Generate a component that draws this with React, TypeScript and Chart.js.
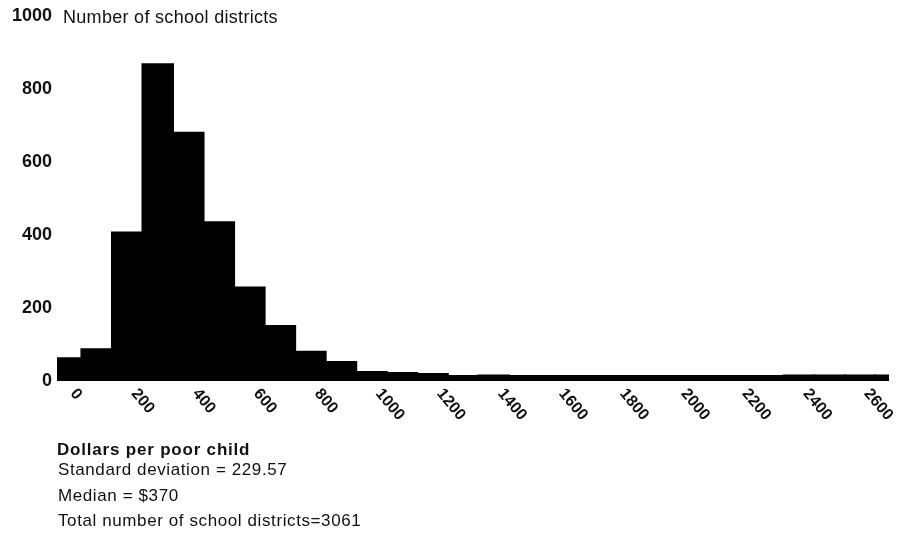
import React, { useEffect, useRef } from "react";
import { Chart, registerables } from "chart.js";

Chart.register(...registerables);

// Histogram bins (centre of each $100 bin, dollars per poor child)
const binCenters = [
  0, 100, 200, 300, 400, 500, 600, 700, 800, 900, 1000, 1100, 1200, 1300,
  1400, 1500, 1600, 1700, 1800, 1900, 2000, 2100, 2200, 2300, 2400, 2500,
  2600, 2700,
];
// Number of school districts in each bin
const districtCounts = [
  62, 87, 407, 868, 680, 435, 256, 151, 80, 52, 25, 22, 19, 14,
  15, 14, 14, 14, 14, 14, 14, 14, 14, 14, 15, 15, 15, 15,
];
const xTickValues = [0, 200, 400, 600, 800, 1000, 1200, 1400, 1600, 1800, 2000, 2200, 2400, 2600];
const yTickValues = [0, 200, 400, 600, 800, 1000];

const yAxisTitle = "Number of school districts";
const xAxisTitle = "Dollars per poor child";
const statLines = [
  "Standard deviation = 229.57",
  "Median = $370",
  "Total number of school districts=3061",
];

const FONT = '"Liberation Sans", Arial, Helvetica, sans-serif';

export default function App() {
  const canvasRef = useRef<HTMLCanvasElement | null>(null);

  useEffect(() => {
    const canvas = canvasRef.current;
    if (!canvas) return;

    const rotatedXLabels = {
      id: "rotatedXLabels",
      afterDraw(chart: any) {
        const ctx = chart.ctx as CanvasRenderingContext2D;
        const xs = chart.scales.x;
        const base = chart.chartArea.bottom;
        ctx.save();
        ctx.font = `bold 16px ${FONT}`;
        ctx.fillStyle = "#111";
        ctx.textAlign = "left";
        ctx.textBaseline = "middle";
        for (const v of xTickValues) {
          const px = xs.getPixelForValue(v);
          ctx.save();
          ctx.translate(px + 7, base + 10);
          ctx.rotate((50 * Math.PI) / 180);
          ctx.fillText(String(v), 0, 0);
          ctx.restore();
        }
        ctx.restore();
      },
    };

    const chart = new Chart(canvas, {
      type: "bar",
      data: {
        datasets: [
          {
            data: binCenters.map((x, i) => ({ x, y: districtCounts[i] })),
            backgroundColor: "#000",
            borderWidth: 0,
            barPercentage: 1,
            categoryPercentage: 1,
            inflateAmount: 1,
            clip: 0,
          } as any,
        ],
      },
      options: {
        animation: false,
        responsive: false,
        maintainAspectRatio: false,
        layout: { padding: { top: 16, right: 16, bottom: 156, left: 0 } },
        plugins: {
          legend: { display: false },
          tooltip: { enabled: false },
        },
        scales: {
          x: {
            type: "linear",
            min: -30,
            max: 2695,
            offset: false,
            display: false,
          },
          y: {
            min: 0,
            max: 1000,
            afterBuildTicks(scale: any) {
              scale.ticks = yTickValues.map((v) => ({ value: v }));
            },
            ticks: {
              padding: 5,
              color: "#111",
              font: { family: FONT, size: 18, weight: "bold" },
              callback: (v: any) => String(v),
            },
            grid: { display: false, drawTicks: false },
            border: { display: false },
            afterFit(scale: any) {
              scale.width = 57;
            },
          },
        },
      } as any,
      plugins: [rotatedXLabels],
    });

    return () => chart.destroy();
  }, []);

  const textBase: React.CSSProperties = {
    position: "absolute",
    fontFamily: FONT,
    color: "#111",
    whiteSpace: "nowrap",
    margin: 0,
  };

  return (
    <div
      style={{
        position: "fixed",
        left: 0,
        top: 0,
        width: 905,
        height: 537,
        background: "#fff",
        overflow: "hidden",
      }}
    >
      <canvas
        ref={canvasRef}
        width={905}
        height={537}
        style={{ position: "absolute", left: 0, top: 0, width: 905, height: 537 }}
      />
      <div
        style={{
          ...textBase,
          left: 63,
          top: 8,
          fontSize: 18,
          lineHeight: "18px",
          letterSpacing: "0.3px",
        }}
      >
        {yAxisTitle}
      </div>
      <div
        style={{
          ...textBase,
          left: 57,
          top: 441,
          fontSize: 17,
          lineHeight: "17px",
          fontWeight: "bold",
          letterSpacing: "0.8px",
        }}
      >
        {xAxisTitle}
      </div>
      {statLines.map((line, i) => (
        <div
          key={i}
          style={{
            ...textBase,
            left: 58,
            top: [461, 487, 512][i],
            fontSize: 17,
            lineHeight: "17px",
            letterSpacing: "0.6px",
          }}
        >
          {line}
        </div>
      ))}
    </div>
  );
}
